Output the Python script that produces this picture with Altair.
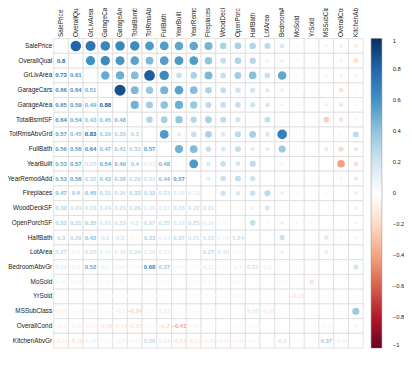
import altair as alt
import pandas as pd

names = ["SalePrice", "OverallQual", "GrLivArea", "GarageCars", "GarageArea",
         "TotalBsmtSF", "TotRmsAbvGrd", "FullBath", "YearBuilt", "YearRemodAdd",
         "Fireplaces", "WoodDeckSF", "OpenPorchSF", "HalfBath", "LotArea",
         "BedroomAbvGr", "MoSold", "YrSold", "MSSubClass", "OverallCond",
         "KitchenAbvGr"]

# lower triangle of the correlation matrix (row i, columns 0..i-1)
lower = [
    [],
    [0.8],
    [0.73, 0.61],
    [0.66, 0.64, 0.51],
    [0.65, 0.59, 0.49, 0.88],
    [0.64, 0.54, 0.43, 0.45, 0.48],
    [0.57, 0.45, 0.83, 0.39, 0.35, 0.3],
    [0.56, 0.56, 0.64, 0.47, 0.41, 0.33, 0.57],
    [0.53, 0.57, 0.23, 0.54, 0.49, 0.4, 0.13, 0.48],
    [0.53, 0.56, 0.32, 0.43, 0.38, 0.29, 0.23, 0.44, 0.57],
    [0.47, 0.4, 0.45, 0.31, 0.26, 0.33, 0.32, 0.23, 0.16, 0.13],
    [0.32, 0.24, 0.23, 0.24, 0.23, 0.26, 0.16, 0.17, 0.23, 0.22, 0.21],
    [0.32, 0.31, 0.35, 0.21, 0.23, 0.2, 0.27, 0.25, 0.18, 0.25, 0.16, 0.06],
    [0.3, 0.29, 0.42, 0.2, 0.2, -0.05, 0.33, 0.14, 0.27, 0.21, 0.22, 0.09, 0.24],
    [0.27, 0.1, 0.23, 0.14, 0.16, 0.24, 0.16, 0.13, 0.01, 0.01, 0.27, 0.18, 0.06, 0.01],
    [0.17, 0.1, 0.52, 0.1, 0.08, 0.05, 0.68, 0.37, -0.07, -0.04, 0.11, 0.05, 0.1, 0.21, 0.1],
    [0.06, 0.06, 0.05, 0.05, 0.04, 0.01, 0.04, 0.05, 0.01, 0.02, 0.05, 0.02, 0.07, -0.01, 0.0, 0.05],
    [-0.01, -0.03, -0.04, -0.04, -0.03, -0.01, -0.03, 0.0, 0.01, 0.04, -0.02, 0.02, -0.06, -0.01, -0.01, -0.04, -0.15],
    [-0.08, 0.04, 0.07, -0.04, -0.1, -0.24, 0.04, 0.13, 0.03, 0.04, -0.05, -0.01, 0.0, 0.16, -0.12, -0.02, -0.01, -0.02],
    [-0.1, -0.09, -0.09, -0.16, -0.14, -0.15, -0.06, -0.2, -0.41, 0.07, -0.02, 0.0, -0.03, -0.06, -0.01, 0.01, 0.0, 0.04, -0.06],
    [-0.12, -0.18, 0.09, -0.05, -0.07, -0.06, 0.26, 0.14, -0.17, -0.14, -0.11, -0.09, -0.08, -0.07, -0.02, 0.2, 0.03, 0.03, 0.37, -0.09],
]

legend_values = [1, 0.8, 0.6, 0.4, 0.2, 0, -0.2, -0.4, -0.6, -0.8, -1]
palette = ["#67001F", "#B2182B", "#D6604D", "#F4A582", "#FDDBC7", "#FFFFFF",
           "#D1E5F0", "#92C5DE", "#4393C3", "#2166AC", "#053061"]
palette_domain = [-1, -0.8, -0.6, -0.4, -0.2, 0, 0.2, 0.4, 0.6, 0.8, 1]

rows = []
n = len(names)
for i in range(n):
    for j in range(n):
        if j < i:
            r, part = lower[i][j], "lower"
        elif j > i:
            r, part = lower[j][i], "upper"
        else:
            r, part = None, "diag"
        rows.append({"row": names[i], "col": names[j], "r": r, "part": part})
df = pd.DataFrame(rows)

xs = alt.X("col:N", sort=names, title=None,
           scale=alt.Scale(domain=names, paddingInner=0, paddingOuter=0),
           axis=alt.Axis(orient="top", labelAngle=-90, labelAlign="left",
                         labelBaseline="middle", ticks=False, domain=False,
                         labelPadding=2, labelFontSize=6.5, labelColor="#222",
                         labelFont="Liberation Sans", labelLimit=0, grid=False))
ys = alt.Y("row:N", sort=names, title=None,
           scale=alt.Scale(domain=names, paddingInner=0, paddingOuter=0),
           axis=alt.Axis(orient="left", ticks=False, domain=False,
                         labelPadding=2, labelFontSize=6.5, labelColor="#222",
                         labelFont="Liberation Sans", labelLimit=0, grid=False))

color_scale = alt.Scale(domain=palette_domain, range=palette, interpolate="rgb")

base = alt.Chart(df)

grid = base.mark_rect(fill="white", stroke="#d9d9d9", strokeWidth=0.7).encode(x=xs, y=ys)

circles = base.transform_filter(alt.datum.part == "upper").transform_calculate(
    a="abs(datum.r)"
).mark_circle(opacity=1).encode(
    x=xs, y=ys,
    color=alt.Color("r:Q", scale=color_scale,
                    legend=alt.Legend(values=legend_values, title=None, format=".1~f",
                                      gradientLength=315, gradientThickness=11,
                                      offset=8, padding=0, labelOffset=11,
                                      labelFontSize=6, labelColor="#222",
                                      labelOverlap=False, labelBaseline="middle",
                                      gradientStrokeColor="#888",
                                      gradientStrokeWidth=0.5)),
    size=alt.Size("a:Q", scale=alt.Scale(domain=[0, 1], range=[0, 143], zero=True),
                  legend=None),
)

texts = base.transform_filter(alt.datum.part == "lower").mark_text(
    fontSize=6, fontWeight="bold", font="Liberation Sans"
).encode(
    x=xs, y=ys,
    text=alt.Text("r:Q", format=".2~f"),
    color=alt.Color("r:Q", scale=color_scale, legend=None),
)

chart = alt.layer(grid, circles, texts).properties(
    width=315, height=315,
    autosize=alt.AutoSizeParams(type="none"),
    padding={"left": 46.5, "top": 28, "right": 41.5, "bottom": 9},
    background="white",
).configure_view(stroke=None)

chart.save("out.html", embed_options={"renderer": "svg", "actions": False})
